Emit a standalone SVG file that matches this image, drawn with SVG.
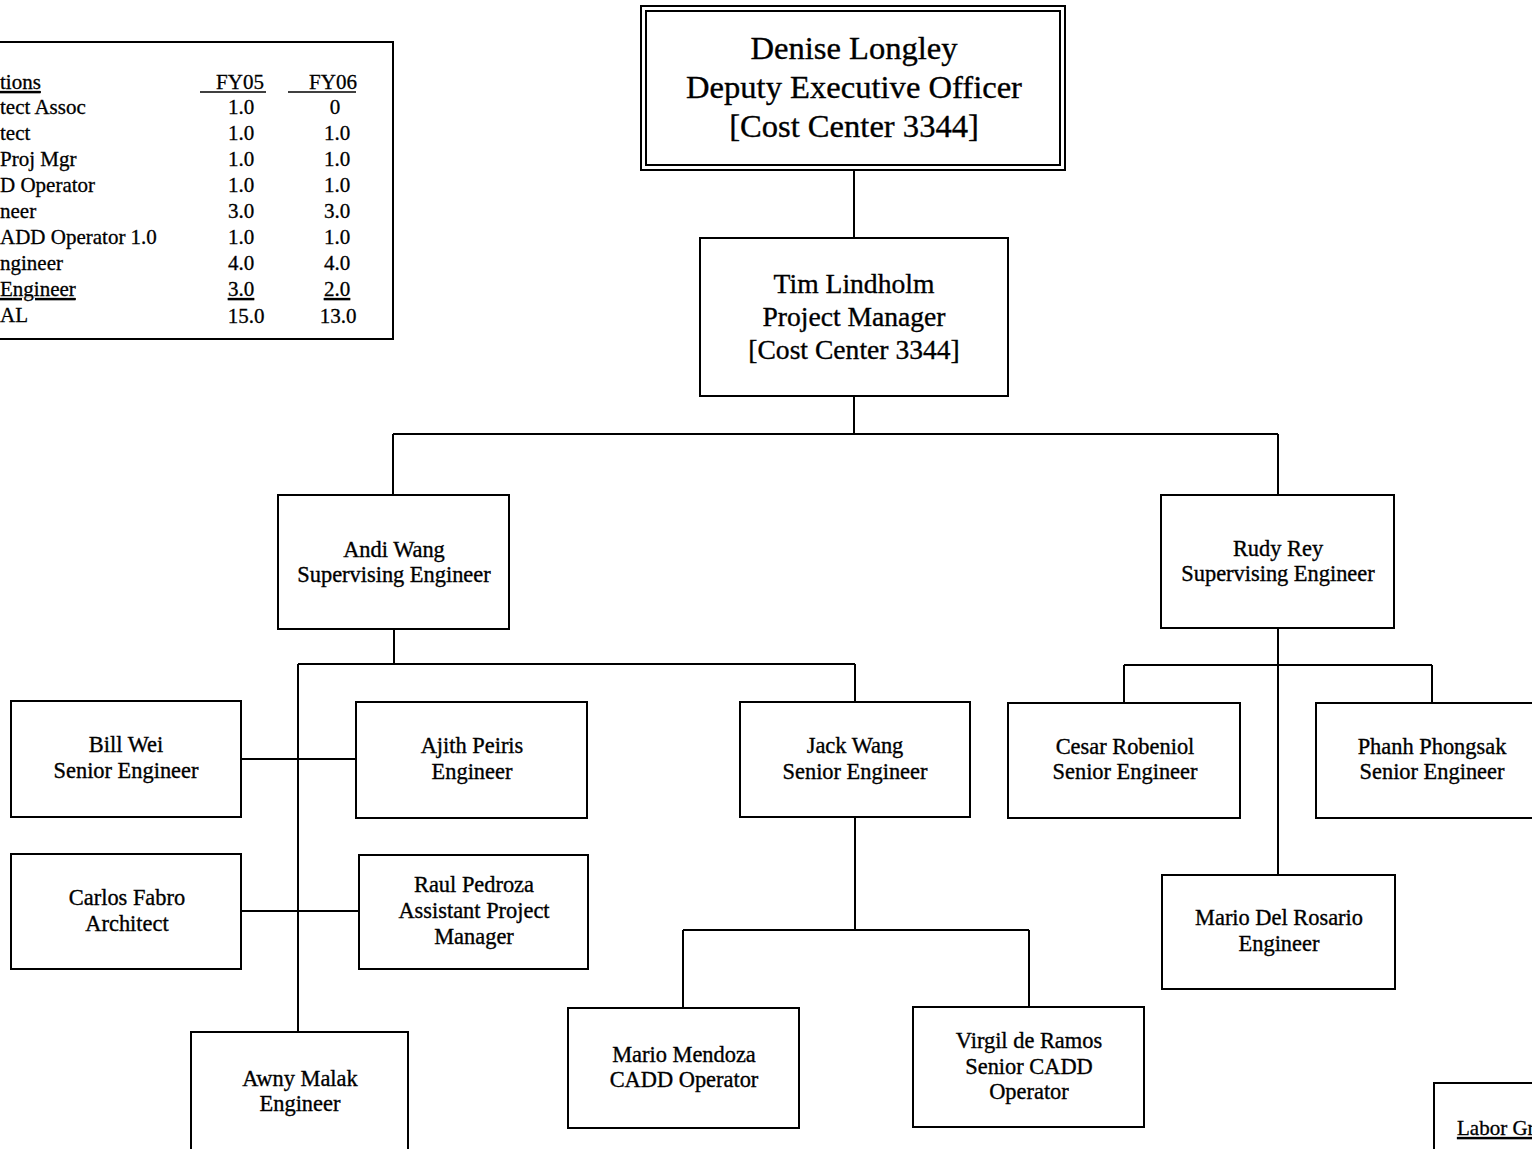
<svg xmlns="http://www.w3.org/2000/svg" width="1532" height="1149" viewBox="0 0 1532 1149">
<style>
.box{fill:#fff;stroke:#000;stroke-width:2}
.t{font-family:"Liberation Serif","DejaVu Serif",serif;fill:#000;stroke:#000;stroke-width:0.35;text-anchor:middle}
.n{font-size:22.4px}
.tb{font-family:"Liberation Serif","DejaVu Serif",serif;font-size:21px;fill:#000;stroke:#000;stroke-width:0.3}
.c{text-anchor:middle}
.u{text-decoration:underline}
#connectors line{stroke:#000;stroke-width:2}
</style>
<rect width="1532" height="1149" fill="#fff"/>
<g id="connectors">
<line x1="854" y1="170" x2="854" y2="238"/>
<line x1="854" y1="396" x2="854" y2="434"/>
<line x1="393" y1="434" x2="1278" y2="434"/>
<line x1="393" y1="434" x2="393" y2="495"/>
<line x1="1278" y1="434" x2="1278" y2="495"/>
<line x1="394" y1="629" x2="394" y2="664"/>
<line x1="298" y1="664" x2="855" y2="664"/>
<line x1="298" y1="664" x2="298" y2="1032"/>
<line x1="855" y1="664" x2="855" y2="702"/>
<line x1="241" y1="759" x2="356" y2="759"/>
<line x1="241" y1="911" x2="359" y2="911"/>
<line x1="855" y1="817" x2="855" y2="930"/>
<line x1="683" y1="930" x2="1029" y2="930"/>
<line x1="683" y1="930" x2="683" y2="1008"/>
<line x1="1029" y1="930" x2="1029" y2="1007"/>
<line x1="1278" y1="628" x2="1278" y2="875"/>
<line x1="1124" y1="665" x2="1432" y2="665"/>
<line x1="1124" y1="665" x2="1124" y2="703"/>
<line x1="1432" y1="665" x2="1432" y2="703"/>
</g>
<g id="table">
<rect class="box" x="-5" y="42" width="398" height="297"/>
<text class="tb u" x="0" y="89">tions </text>
<text class="tb" x="0" y="114">tect Assoc</text>
<text class="tb" x="0" y="140">tect</text>
<text class="tb" x="0" y="166">Proj Mgr</text>
<text class="tb" x="0" y="192">D Operator</text>
<text class="tb" x="0" y="218">neer</text>
<text class="tb" x="0" y="244">ADD Operator 1.0</text>
<text class="tb" x="0" y="270">ngineer</text>
<text class="tb u" x="0" y="296">Engineer</text>
<text class="tb" x="0" y="322">AL</text>
<text class="tb c" x="240" y="89">FY05</text>
<line x1="200" y1="92" x2="266" y2="92" stroke="#000" stroke-width="1.3"/>
<text class="tb c" x="333" y="89">FY06</text>
<line x1="288" y1="92" x2="356" y2="92" stroke="#000" stroke-width="1.3"/>
<text class="tb c" x="241" y="114">1.0</text><text class="tb c" x="335" y="114">0</text>
<text class="tb c" x="241" y="140">1.0</text><text class="tb c" x="337" y="140">1.0</text>
<text class="tb c" x="241" y="166">1.0</text><text class="tb c" x="337" y="166">1.0</text>
<text class="tb c" x="241" y="192">1.0</text><text class="tb c" x="337" y="192">1.0</text>
<text class="tb c" x="241" y="218">3.0</text><text class="tb c" x="337" y="218">3.0</text>
<text class="tb c" x="241" y="244">1.0</text><text class="tb c" x="337" y="244">1.0</text>
<text class="tb c" x="241" y="270">4.0</text><text class="tb c" x="337" y="270">4.0</text>
<text class="tb c u" x="241" y="296">3.0</text><text class="tb c u" x="337" y="296">2.0</text>
<text class="tb c" x="246" y="323">15.0</text><text class="tb c" x="338" y="323">13.0</text>
</g>
<g id="denise">
<rect class="box" x="641" y="6" width="424" height="164"/>
<rect class="box" x="646" y="11" width="414" height="154"/>
<text class="t" x="854" y="59" font-size="32.6">Denise Longley</text>
<text class="t" x="854" y="98" font-size="32.6">Deputy Executive Officer</text>
<text class="t" x="854" y="137" font-size="32.6">[Cost Center 3344]</text>
</g>
<g id="tim">
<rect class="box" x="700" y="238" width="308" height="158"/>
<text class="t" x="854" y="293" font-size="27.6">Tim Lindholm</text>
<text class="t" x="854" y="326" font-size="27.6">Project Manager</text>
<text class="t" x="854" y="359" font-size="27.6">[Cost Center 3344]</text>
</g>
<g id="andi">
<rect class="box" x="278" y="495" width="231" height="134"/>
<text class="t n" x="394" y="557">Andi Wang</text>
<text class="t n" x="394" y="582">Supervising Engineer</text>
</g>
<g id="rudy">
<rect class="box" x="1161" y="495" width="233" height="133"/>
<text class="t n" x="1278" y="556">Rudy Rey</text>
<text class="t n" x="1278" y="581">Supervising Engineer</text>
</g>
<g id="bill">
<rect class="box" x="11" y="701" width="230" height="116"/>
<text class="t n" x="126" y="752">Bill Wei</text>
<text class="t n" x="126" y="778">Senior Engineer</text>
</g>
<g id="ajith">
<rect class="box" x="356" y="702" width="231" height="116"/>
<text class="t n" x="472" y="753">Ajith Peiris</text>
<text class="t n" x="472" y="779">Engineer</text>
</g>
<g id="carlos">
<rect class="box" x="11" y="854" width="230" height="115"/>
<text class="t n" x="127" y="905">Carlos Fabro</text>
<text class="t n" x="127" y="931">Architect</text>
</g>
<g id="raul">
<rect class="box" x="359" y="855" width="229" height="114"/>
<text class="t n" x="474" y="892">Raul Pedroza</text>
<text class="t n" x="474" y="918">Assistant Project</text>
<text class="t n" x="474" y="944">Manager</text>
</g>
<g id="awny">
<rect class="box" x="191" y="1032" width="217" height="130"/>
<text class="t n" x="300" y="1086">Awny Malak</text>
<text class="t n" x="300" y="1111">Engineer</text>
</g>
<g id="jack">
<rect class="box" x="740" y="702" width="230" height="115"/>
<text class="t n" x="855" y="753">Jack Wang</text>
<text class="t n" x="855" y="779">Senior Engineer</text>
</g>
<g id="mendoza">
<rect class="box" x="568" y="1008" width="231" height="120"/>
<text class="t n" x="684" y="1062">Mario Mendoza</text>
<text class="t n" x="684" y="1087">CADD Operator</text>
</g>
<g id="virgil">
<rect class="box" x="913" y="1007" width="231" height="120"/>
<text class="t n" x="1029" y="1048">Virgil de Ramos</text>
<text class="t n" x="1029" y="1074">Senior CADD</text>
<text class="t n" x="1029" y="1099">Operator</text>
</g>
<g id="cesar">
<rect class="box" x="1008" y="703" width="232" height="115"/>
<text class="t n" x="1125" y="754">Cesar Robeniol</text>
<text class="t n" x="1125" y="779">Senior Engineer</text>
</g>
<g id="phanh">
<rect class="box" x="1316" y="703" width="230" height="115"/>
<text class="t n" x="1432" y="754">Phanh Phongsak</text>
<text class="t n" x="1432" y="779">Senior Engineer</text>
</g>
<g id="delrosario">
<rect class="box" x="1162" y="875" width="233" height="114"/>
<text class="t n" x="1279" y="925">Mario Del Rosario</text>
<text class="t n" x="1279" y="951">Engineer</text>
</g>
<g id="labor">
<rect class="box" x="1434" y="1083" width="120" height="80"/>
<text class="tb u" x="1457" y="1135">Labor Gr</text>
</g>
</svg>
